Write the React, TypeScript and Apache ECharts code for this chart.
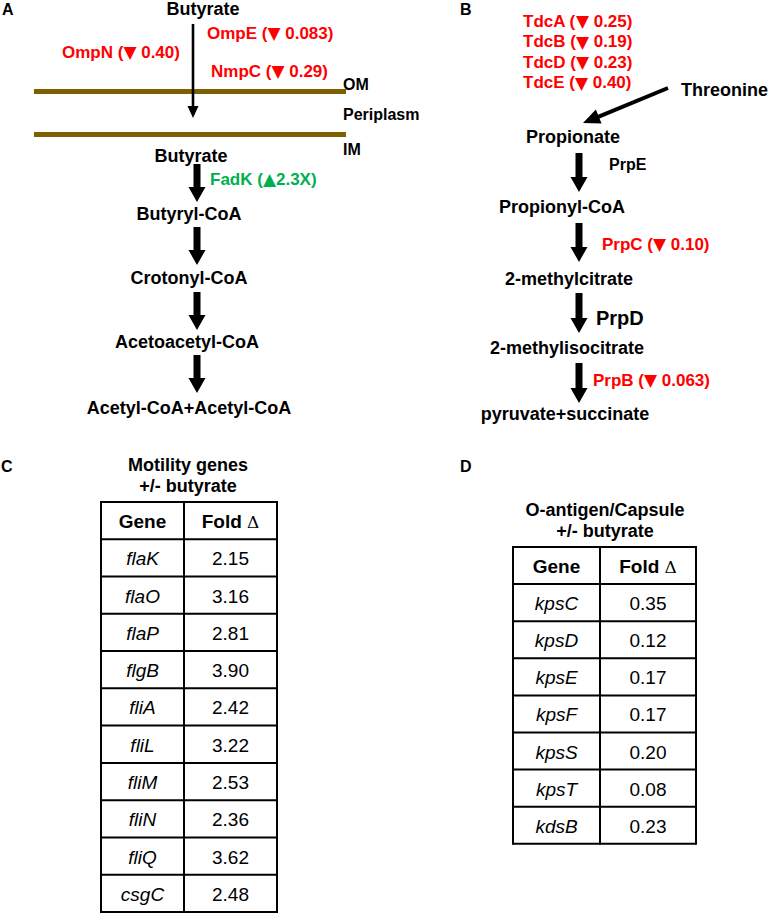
import React, { useEffect, useRef } from "react";
import * as echarts from "echarts";

// ---------- data ----------
const butyratePath = ["Butyrate", "Butyryl-CoA", "Crotonyl-CoA", "Acetoacetyl-CoA", "Acetyl-CoA+Acetyl-CoA"];
const porinNames = ["OmpE", "OmpN", "NmpC"];
const porinFold = ["0.083", "0.40", "0.29"];
const fadName = "FadK";
const fadFold = "2.3X";
const membraneLabels = ["OM", "Periplasm", "IM"];

const tdcNames = ["TdcA", "TdcB", "TdcD", "TdcE"];
const tdcFold = ["0.25", "0.19", "0.23", "0.40"];
const propionatePath = ["Propionate", "Propionyl-CoA", "2-methylcitrate", "2-methylisocitrate", "pyruvate+succinate"];
const prpEnzymes = ["PrpE", "PrpC", "PrpD", "PrpB"];
const prpFold = [null, "0.10", null, "0.063"];

const motilityGenes = ["flaK", "flaO", "flaP", "flgB", "fliA", "fliL", "fliM", "fliN", "fliQ", "csgC"];
const motilityFold = [2.15, 3.16, 2.81, 3.9, 2.42, 3.22, 2.53, 2.36, 3.62, 2.48];
const capsuleGenes = ["kpsC", "kpsD", "kpsE", "kpsF", "kpsS", "kpsT", "kdsB"];
const capsuleFold = [0.35, 0.12, 0.17, 0.17, 0.2, 0.08, 0.23];

// ---------- styling / layout ----------
const FF = '"Liberation Sans", Arial, Helvetica, sans-serif';
const RED = "#ff0000";
const GREEN = "#00b050";
const BROWN = "#7f6000";

function txt(text: string, x: number, y: number, size: number, opt: any = {}) {
  const align = opt.align || "center";
  return {
    type: "text",
    x,
    y,
    z: 10,
    style: {
      text,
      fill: opt.fill || "#000",
      font: `${opt.italic ? "italic " : ""}${opt.bold === false ? "" : "bold "}${size}px ${FF}`,
      textAlign: align,
      textVerticalAlign: "middle",
      align,
      verticalAlign: "middle",
      rich: opt.rich,
    },
  };
}

// label with a triangle glyph drawn a bit larger
function changeLabel(name: string, tri: string, val: string, x: number, y: number, size: number, fill: string, space = true) {
  return txt(`{a|${name} (}{t|${tri}}{a|${space ? " " : ""}${val})}`, x, y, size, {
    align: "left",
    fill,
    rich: {
      a: { font: `bold ${size}px ${FF}`, fill },
      t: { font: `bold ${size}px "DejaVu Sans", sans-serif`, fill },
    },
  });
}

function arrow(x1: number, y1: number, x2: number, y2: number, sw: number, hw: number, hl: number) {
  const dx = x2 - x1, dy = y2 - y1;
  const L = Math.sqrt(dx * dx + dy * dy);
  const ux = dx / L, uy = dy / L;
  const px = -uy, py = ux;
  const bx = x2 - ux * hl, by = y2 - uy * hl;
  const pts = [
    [x1 + px * sw, y1 + py * sw],
    [bx + px * sw, by + py * sw],
    [bx + px * hw, by + py * hw],
    [x2, y2],
    [bx - px * hw, by - py * hw],
    [bx - px * sw, by - py * sw],
    [x1 - px * sw, y1 - py * sw],
  ];
  return { type: "polygon", z: 5, shape: { points: pts }, style: { fill: "#000" } };
}

function table(
  left: number,
  mid: number,
  right: number,
  top: number,
  rowH: number,
  genes: string[],
  folds: number[]
) {
  const els: any[] = [];
  const n = genes.length + 1;
  const bottom = top + rowH * n;
  const lw = 2;
  for (let i = 0; i <= n; i++) {
    const y = top + i * rowH;
    els.push({ type: "line", z: 6, shape: { x1: left, y1: y, x2: right, y2: y }, style: { stroke: "#000", lineWidth: lw } });
  }
  [left, mid, right].forEach((x) =>
    els.push({ type: "line", z: 6, shape: { x1: x, y1: top - 1, x2: x, y2: bottom + 1 }, style: { stroke: "#000", lineWidth: lw } })
  );
  const c1 = (left + mid) / 2;
  const c2 = (mid + right) / 2;
  els.push(txt("Gene", c1, top + rowH / 2 + 1, 19));
  els.push(
    txt("{b|Fold} {d|Δ}", c2, top + rowH / 2 + 1, 19, {
      rich: {
        b: { font: `bold 19px ${FF}`, fill: "#000" },
        d: { font: `17px "DejaVu Serif", serif`, fill: "#000" },
      },
    })
  );
  genes.forEach((g, i) => {
    const y = top + rowH * (i + 1.5) + 1;
    els.push(txt(g, c1, y, 19, { italic: true, bold: false }));
    els.push(txt(folds[i].toFixed(2), c2, y, 19, { bold: false }));
  });
  return els;
}

function buildGraphics() {
  const g: any[] = [];

  // Panel letters
  g.push(txt("A", 2, 9, 16, { align: "left" }));
  g.push(txt("B", 460, 9, 16, { align: "left" }));
  g.push(txt("C", 1, 466, 16, { align: "left" }));
  g.push(txt("D", 460, 466, 16, { align: "left" }));

  // ---------- Panel A ----------
  g.push(txt(butyratePath[0], 203, 9, 18));
  g.push(arrow(193, 24, 193, 118, 1.3, 5.5, 12));
  const porinPos = [
    [207, 33],
    [62, 52],
    [211, 71],
  ];
  porinNames.forEach((p, i) => {
    g.push(changeLabel(p, "▼", porinFold[i], porinPos[i][0], porinPos[i][1], 17, RED));
  });
  g.push({ type: "rect", z: 3, shape: { x: 34, y: 89, width: 312, height: 5 }, style: { fill: BROWN } });
  g.push({ type: "rect", z: 3, shape: { x: 34, y: 132, width: 312, height: 5 }, style: { fill: BROWN } });
  const memY = [84, 114, 149];
  membraneLabels.forEach((m, i) => g.push(txt(m, 343, memY[i], 16, { align: "left" })));

  const aTextY = [156, 214, 278, 342, 408];
  const aTextX = [191, 189, 189, 187, 189];
  butyratePath.forEach((s, i) => g.push(txt(s, aTextX[i], aTextY[i], 18)));
  const aArrows = [
    [164, 202],
    [227, 265],
    [292, 330],
    [355, 393],
  ];
  aArrows.forEach(([y1, y2]) => g.push(arrow(197, y1, 197, y2, 3.5, 8.5, 15)));
  g.push(changeLabel(fadName, "▲", fadFold, 210, 179, 17, GREEN, false));

  // ---------- Panel B ----------
  tdcNames.forEach((t, i) => g.push(changeLabel(t, "▼", tdcFold[i], 523, 21 + i * 20.5, 17, RED)));
  g.push(txt("Threonine", 681, 90, 18, { align: "left" }));
  g.push(arrow(668, 88, 583, 123, 2, 7.5, 17));

  const bTextY = [137, 207, 279, 348, 414];
  const bTextX = [573, 562, 569, 567, 565];
  propionatePath.forEach((s, i) => g.push(txt(s, bTextX[i], bTextY[i], 18)));
  const bArrows = [
    [153, 192],
    [223, 262],
    [293, 333],
    [363, 403],
  ];
  bArrows.forEach(([y1, y2]) => g.push(arrow(579, y1, 579, y2, 3.5, 8.5, 15)));
  const enzPos = [
    [609, 164, 16],
    [602, 244, 17],
    [596, 318, 20],
    [593, 380, 17],
  ];
  prpEnzymes.forEach((e, i) => {
    const f = prpFold[i];
    if (f) g.push(changeLabel(e, "▼", f, enzPos[i][0], enzPos[i][1], enzPos[i][2], RED));
    else g.push(txt(e, enzPos[i][0], enzPos[i][1], enzPos[i][2], { align: "left" }));
  });

  // ---------- Panel C ----------
  g.push(txt("Motility genes", 188, 465, 18));
  g.push(txt("+/- butyrate", 188, 486, 18));
  table(101, 184, 277, 502, 37.27, motilityGenes, motilityFold).forEach((e) => g.push(e));

  // ---------- Panel D ----------
  g.push(txt("O-antigen/Capsule", 605, 510, 18));
  g.push(txt("+/- butyrate", 605, 531, 18));
  table(513, 600, 696, 547, 37.1, capsuleGenes, capsuleFold).forEach((e) => g.push(e));

  return g;
}

export default function App() {
  const ref = useRef<HTMLDivElement>(null);
  useEffect(() => {
    if (!ref.current) return;
    const chart = echarts.init(ref.current, undefined, { renderer: "svg" });
    chart.setOption({
      animation: false,
      backgroundColor: "#ffffff",
      graphic: { elements: buildGraphics() },
    });
    return () => chart.dispose();
  }, []);
  return (
    <div
      ref={ref}
      style={{ position: "absolute", left: 0, top: 0, width: 771, height: 915, background: "#fff" }}
    />
  );
}
